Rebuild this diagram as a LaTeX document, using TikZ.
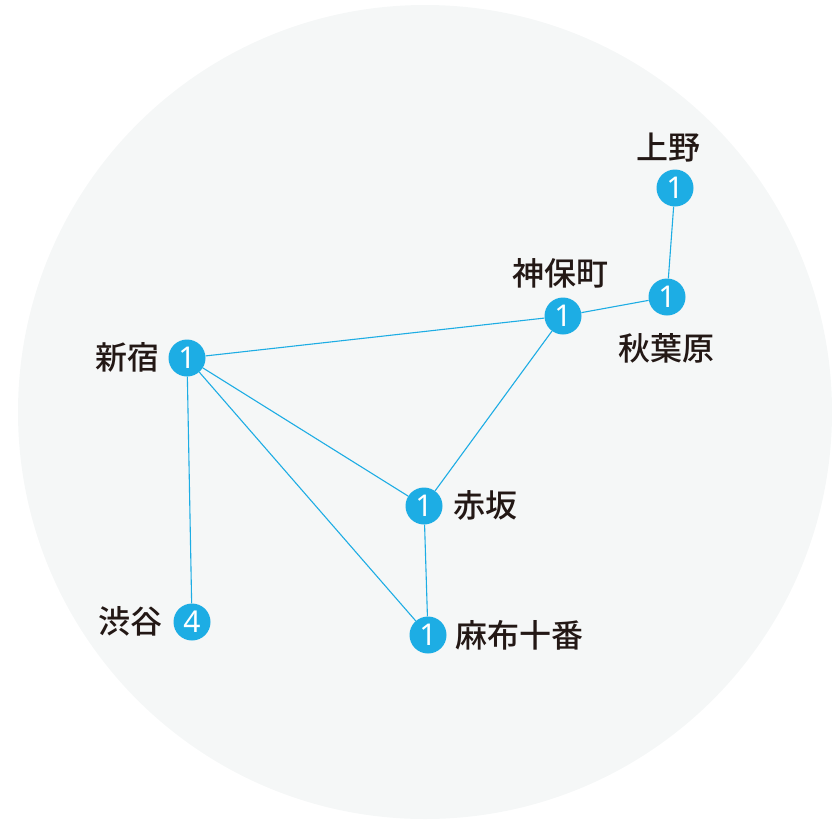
\documentclass[tikz,border=0pt]{standalone}
\usepackage{fontspec}
\newfontfamily\cjk{Noto Sans CJK JP}[BoldFont={* Medium}]
\newfontfamily\numfont{Noto Sans}
\definecolor{bgc}{HTML}{F5F7F7}
\definecolor{stc}{HTML}{1DADE4}
\definecolor{txc}{HTML}{231815}
\tikzset{
  stn/.style={circle, fill=stc, minimum size=37pt, inner sep=0pt, text=white, font=\numfont\fontsize{30}{30}\selectfont},
  lbl/.style={text=txc, inner sep=0pt, font=\cjk\bfseries\fontsize{32}{32}\selectfont},
  link/.style={draw=stc, line width=1.1pt}
}
\begin{document}
\begin{tikzpicture}[x=1pt,y=-1pt]
\useasboundingbox (0,0) rectangle (832,822);
\fill[bgc] (425,412) circle (407);
\node[stn] (ueno) at (675,188) {1};
\node[stn] (akiba) at (667,297) {1};
\node[stn] (jimbo) at (563,316) {1};
\node[stn] (shinjuku) at (187,358) {1};
\node[stn] (akasaka) at (424,506) {1};
\node[stn] (azabu) at (428,635) {1};
\node[stn] (shibuya) at (192,622) {4};
\draw[link] (ueno) -- (akiba);
\draw[link] (akiba) -- (jimbo);
\draw[link] (jimbo) -- (shinjuku);
\draw[link] (jimbo) -- (akasaka);
\draw[link] (shinjuku) -- (akasaka);
\draw[link] (shinjuku) -- (azabu);
\draw[link] (shinjuku) -- (shibuya);
\draw[link] (akasaka) -- (azabu);
\node[lbl] (l-ueno) at (668,148) {上野};
\node[lbl] (l-akiba) at (666,348) {秋葉原};
\node[lbl] (l-jimbo) at (560,273) {神保町};
\node[lbl] (l-shinjuku) at (127,357) {新宿};
\node[lbl] (l-akasaka) at (485,505) {赤坂};
\node[lbl] (l-azabu) at (519,635) {麻布十番};
\node[lbl] (l-shibuya) at (130,621) {渋谷};
\end{tikzpicture}
\end{document}
